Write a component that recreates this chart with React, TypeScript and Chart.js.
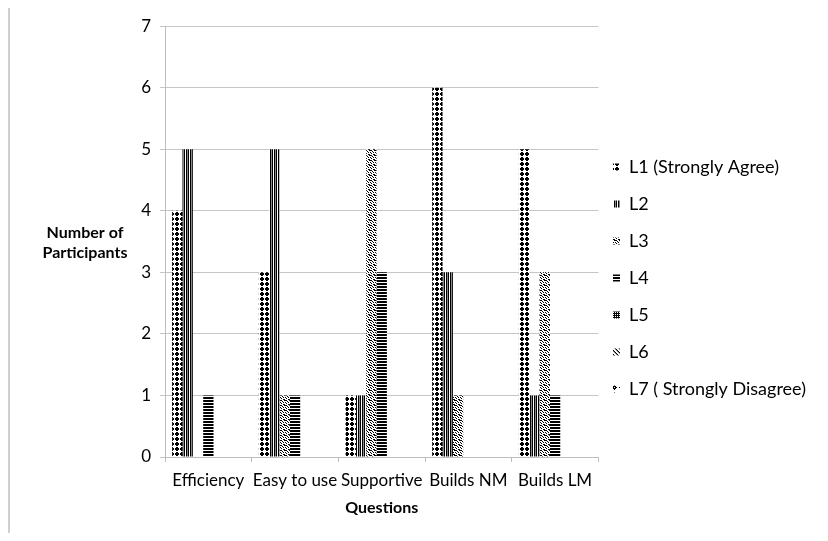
import React, { useEffect, useRef } from "react";
import { Chart, registerables } from "chart.js";

Chart.register(...registerables);

const categories = ["Efficiency", "Easy to use", "Supportive", "Builds NM", "Builds LM"];
const seriesNames = ["L1 (Strongly Agree)", "L2", "L3", "L4", "L5", "L6", "L7 ( Strongly Disagree)"];
const L1 = [4, 3, 1, 6, 5];
const L2 = [5, 5, 1, 3, 1];
const L3 = [0, 1, 5, 1, 3];
const L4 = [1, 1, 3, 0, 1];
const L5 = [0, 0, 0, 0, 0];
const L6 = [0, 0, 0, 0, 0];
const L7 = [0, 0, 0, 0, 0];
const seriesValues = [L1, L2, L3, L4, L5, L6, L7];
const yTicks = [0, 1, 2, 3, 4, 5, 6, 7];

const FONT = "Lato, 'Open Sans', sans-serif";
const LEGEND_FONT_SIZE = 18;

const tiles: string[][] = [
  // L1 dots
  [".XX..", "XXXX.", "XXXX.", ".XX..", "....."],
  // L2 vertical lines
  ["XgX."],
  // L3 confetti
  ["X..X.", ".X...", "...XX", "XX..X", "..X.."],
  // L4 horizontal lines
  ["X", "X", "."],
  // L5 dense grid
  ["XX", "X."],
  // L6 diagonal
  ["X..g", "gX..", ".gX.", "..gX"],
  // L7 plus shape
  ["..X....", ".XXX...", "XX.XX..", ".XXX...", "..X....", ".......", "......."],
];

function makePattern(ctx: CanvasRenderingContext2D, rows: string[]) {
  const h = rows.length;
  const w = rows[0].length;
  const c = document.createElement("canvas");
  c.width = w;
  c.height = h;
  const t = c.getContext("2d")!;
  t.fillStyle = "#ffffff";
  t.fillRect(0, 0, w, h);
  for (let y = 0; y < h; y++) {
    for (let x = 0; x < w; x++) {
      const ch = rows[y][x];
      if (ch === "X") {
        t.fillStyle = "#000000";
        t.fillRect(x, y, 1, 1);
      } else if (ch === "g") {
        t.fillStyle = "#8a8a8a";
        t.fillRect(x, y, 1, 1);
      }
    }
  }
  return ctx.createPattern(c, "repeat")!;
}

const LEGEND_BOX_X = 603;
const LEGEND_FIRST_Y = 160;

const yTitlePlugin = {
  id: "yTitleHorizontal",
  afterDraw(chart: any) {
    const ctx = chart.ctx as CanvasRenderingContext2D;
    ctx.save();
    ctx.fillStyle = "#000";
    ctx.font = `bold 16px ${FONT}`;
    ctx.textAlign = "center";
    ctx.textBaseline = "middle";
    ctx.fillText("Number of", 75, 226);
    ctx.fillText("Participants", 75, 246);
    ctx.restore();
  },
};

const legendShiftPlugin = {
  id: "legendShift",
  afterLayout(chart: any) {
    const lg = chart.legend;
    if (!lg || !lg.columnSizes || !lg.columnSizes.length) return;
    const padding = lg.options.labels.padding;
    lg.left = LEGEND_BOX_X - padding;
    lg.right = chart.width;
    lg.width = lg.right - lg.left;
    const curY = (lg.top + padding + lg.bottom - lg.columnSizes[0].height) / 2;
    const desired = LEGEND_FIRST_Y - LEGEND_FONT_SIZE / 2;
    const dy = desired - curY;
    lg.top += dy;
    lg.bottom += dy;
  },
};

export default function App() {
  const ref = useRef<HTMLCanvasElement | null>(null);
  useEffect(() => {
    const canvas = ref.current!;
    const ctx = canvas.getContext("2d")!;
    const datasets = seriesNames.map((name, i) => {
      const p = makePattern(ctx, tiles[i]);
      return {
        label: name,
        data: seriesValues[i],
        backgroundColor: p,
        borderWidth: 0,
        categoryPercentage: 0.835,
        barPercentage: 1,
      };
    });
    const pad = { left: 130, top: 12, right: 20, bottom: 10 };
    const chart = new Chart(canvas, {
      type: "bar",
      data: { labels: categories, datasets },
      plugins: [yTitlePlugin, legendShiftPlugin],
      options: {
        animation: false,
        responsive: false,
        maintainAspectRatio: false,
        layout: { padding: { ...pad } },
        plugins: {
          tooltip: { enabled: false },
          legend: {
            position: "right",
            align: "center",
            labels: {
              boxWidth: 7,
              boxHeight: 7,
              padding: 19,
              color: "#000",
              font: { family: FONT, size: LEGEND_FONT_SIZE },
            },
          },
        },
        scales: {
          x: {
            grid: {
              drawOnChartArea: false,
              offset: true,
              tickLength: 5,
              color: "#bdbdbd",
            },
            border: { color: "#bdbdbd" },
            ticks: {
              color: "#000",
              padding: 8,
              maxRotation: 0,
              minRotation: 0,
              autoSkip: false,
              font: { family: FONT, size: 17 },
            },
            title: {
              display: true,
              text: "Questions",
              color: "#000",
              font: { family: FONT, size: 16, weight: "bold" },
              padding: { top: 0, bottom: 0 },
            },
          },
          y: {
            min: 0,
            max: 7,
            afterBuildTicks: (axis: any) => {
              axis.ticks = yTicks.map((v) => ({ value: v }));
            },
            grid: { color: "#c6c6c6", tickLength: 5 },
            border: { color: "#bdbdbd" },
            ticks: {
              color: "#000",
              padding: 9,
              font: { family: FONT, size: 17 },
            },
          },
        },
      },
    });
    const target = { left: 155, right: 588, top: 20, bottom: 450 };
    for (let k = 0; k < 3; k++) {
      const ca = chart.chartArea;
      pad.left += target.left - ca.left;
      pad.top += target.top - ca.top;
      pad.right += ca.right - target.right;
      pad.bottom += ca.bottom - target.bottom;
      (chart.options as any).layout.padding = { ...pad };
      chart.update();
    }
    return () => chart.destroy();
  }, []);
  return (
    <div
      style={{
        marginTop: -3,
        width: 808,
        height: 526,
        borderLeft: "2px solid #cfcfcf",
        borderTop: "2px solid #cfcfcf",
      }}
    >
      <canvas ref={ref} width={808} height={526} style={{ display: "block" }} />
    </div>
  );
}
